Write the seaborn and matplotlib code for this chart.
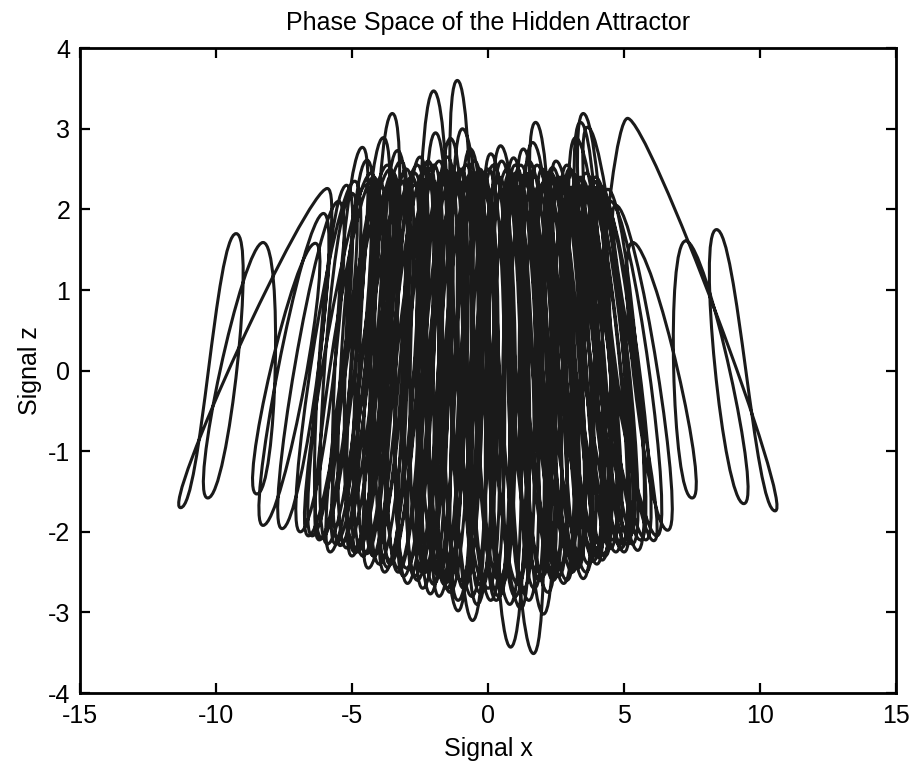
import matplotlib
matplotlib.use("Agg")
import matplotlib.pyplot as plt
import seaborn as sns
from matplotlib.path import Path
from matplotlib.patches import PathPatch

# ---- data: successive turning points of the trajectory (top, then bottom) ----
peak_x = [3.90, 5.13, 8.40, 7.27, 5.32, 4.70, 4.40, 3.66, 3.95, 3.50, 3.22, 3.40, 2.90, 3.10,
          2.60, 2.37, 2.10, 1.75, 1.64, 1.30, 1.00, 0.94, 0.46, 0.10, -0.30, -0.65, -0.94,
          -1.13, -1.38, -1.93, -2.00, -2.20, -2.70, -3.33, -3.52, -3.85, -4.45, -4.62, -5.20,
          -5.91, -9.26, -8.27, -6.35, -6.05, -5.50, -4.90, -4.20, -3.60, -3.10, -2.60, -2.10,
          -1.60, -1.10, -0.60, -0.10, 0.40, 0.90, 1.40, 1.90, 2.40, 2.90, 3.30, 3.80, 4.20,
          3.60, 3.00, 2.50, 2.00, 1.50, 1.00, 0.50, 0.00, -0.50, -1.00, -1.50, -2.00, -2.50,
          -3.00, -3.50, -4.00, -4.50, -5.00, -4.30, -3.70, -3.20, -2.80, -2.30, -1.80, -1.30,
          -0.80, -0.30, 0.20, 0.70, 1.20, 1.70, 2.20, 2.70, 3.20, 3.70, 4.10, 4.50, 3.90,
          3.40, 2.80, 2.30, 1.80, 1.30, 0.80, 0.30, -0.20, -0.70, -1.20, -1.70, -2.20, -2.70,
          -3.20, -3.70, -4.10]
peak_z = [2.35, 3.13, 1.75, 1.61, 1.59, 2.05, 2.25, 3.02, 2.40, 3.19, 2.89, 3.08, 2.55, 2.45,
          2.40, 2.52, 2.35, 3.08, 2.83, 2.75, 2.45, 2.64, 2.79, 2.69, 2.40, 2.75, 3.00,
          3.60, 2.88, 2.95, 3.47, 2.60, 2.45, 2.73, 3.19, 2.89, 2.61, 2.77, 2.30,
          2.26, 1.70, 1.59, 1.58, 1.95, 2.10, 2.35, 2.40, 2.50, 2.35, 2.55, 2.40,
          2.50, 2.35, 2.45, 2.30, 2.40, 2.35, 2.45, 2.30, 2.35, 2.30, 2.40, 2.30, 2.15,
          2.45, 2.50, 2.60, 2.50, 2.60, 2.55, 2.60, 2.50, 2.60, 2.50, 2.65, 2.55, 2.65,
          2.50, 2.45, 2.35, 2.30, 2.20, 2.45, 2.55, 2.60, 2.40, 2.50, 2.60, 2.45,
          2.55, 2.50, 2.55, 2.50, 2.55, 2.40, 2.45, 2.40, 2.30, 2.20, 2.30, 2.10, 2.35,
          2.40, 2.35, 2.45, 2.55, 2.35, 2.45, 2.35, 2.45, 2.35, 2.45, 2.35, 2.40, 2.30,
          2.35, 2.25, 2.20]
trough_x = [4.00, 10.55, 9.40, 7.50, 6.60, 6.09, 5.50, 5.20, 4.90, 4.25, 4.60, 3.90, 3.50, 4.00,
            3.20, 2.78, 3.00, 2.04, 2.40, 1.67, 1.90, 0.83, 1.20, 0.40, 0.00, -0.57, -0.20,
            -1.10, -1.50, -2.12, -1.80, -2.96, -3.30, -3.70, -4.45, -4.90, -5.43, -6.10, -6.46,
            -11.30, -10.30, -8.50, -8.27, -7.57, -6.90, -6.20, -5.60, -4.80, -4.20, -3.60, -2.70,
            -2.30, -1.60, -0.90, -0.30, 0.50, 1.30, 2.00, 2.60, 3.30, 3.90, 4.50, 5.10, 5.80,
            5.00, 4.20, 3.60, 2.90, 2.20, 1.50, 0.80, 0.10, -0.60, -1.40, -2.00, -2.60, -3.30,
            -4.00, -4.60, -5.20, -5.90, -6.60, -5.80, -5.00, -4.40, -3.80, -3.10, -2.40, -1.80,
            -1.10, -0.40, 0.30, 1.00, 1.70, 2.40, 3.10, 3.70, 4.30, 4.90, 5.60, 6.20, 5.30,
            4.70, 4.00, 3.30, 2.60, 1.90, 1.10, 0.40, -0.30, -1.00, -1.70, -2.40, -3.00, -3.60,
            -4.20, -4.90, -5.40]
trough_z = [-2.30, -1.74, -1.65, -1.58, -1.98, -2.11, -2.23, -2.05, -2.15, -2.27, -2.10, -2.35, -2.58, -2.20,
            -2.45, -2.64, -2.30, -3.02, -2.50, -3.51, -2.60, -3.43, -2.95, -2.80, -2.70, -3.10, -2.60,
            -2.98, -2.70, -2.77, -2.55, -2.64, -2.45, -2.44, -2.27, -2.20, -2.17, -2.08, -2.05,
            -1.70, -1.58, -1.53, -1.92, -1.96, -2.00, -2.10, -2.15, -2.25, -2.30, -2.40, -2.55,
            -2.50, -2.65, -2.70, -2.75, -2.65, -2.70, -2.55, -2.45, -2.40, -2.30, -2.20, -2.15, -2.10,
            -2.25, -2.35, -2.50, -2.60, -2.75, -2.85, -2.90, -2.85, -2.80, -2.75, -2.65, -2.60, -2.50,
            -2.40, -2.30, -2.20, -2.15, -2.05, -2.25, -2.30, -2.45, -2.50, -2.55, -2.70, -2.80,
            -2.85, -2.90, -2.85, -2.80, -2.70, -2.60, -2.50, -2.40, -2.30, -2.20, -2.10, -2.05, -2.15,
            -2.25, -2.40, -2.45, -2.55, -2.60, -2.65, -2.60, -2.65, -2.60, -2.55, -2.50, -2.45, -2.35,
            -2.30, -2.25, -2.15]

x_ticks = [-15, -10, -5, 0, 5, 10, 15]
z_ticks = [-4, -3, -2, -1, 0, 1, 2, 3, 4]
title = "Phase Space of the Hidden Attractor"
x_label = "Signal x"
z_label = "Signal z"

# ---- style ----
line_color = "#1a1a1a"
loop_round = 0.75          # horizontal handle length of each turn (data units)
# turning sense at each turn: tops move +x, bottoms move -x, except where the
# trajectory reverses its rotation (outer loops on the right, left outer jump)
top_sense = [1] * len(peak_x)
bottom_sense = [-1] * len(trough_x)
for c in (2, 3, 4, 5):
    top_sense[c] = -1
for c in (2, 3, 4):
    bottom_sense[c] = 1
top_sense[39] = -1
bottom_sense[39] = 1

sns.set_theme(style="ticks")
plt.rcParams["font.family"] = ["Liberation Sans", "DejaVu Sans"]
plt.rcParams["font.size"] = 18

fig = plt.figure(figsize=(9.16, 7.65), dpi=100)
ax = fig.add_axes([0.0873, 0.094, 0.891, 0.843])

xs, zs, sense = [], [], []
for i in range(len(peak_x)):
    xs += [peak_x[i], trough_x[i]]
    zs += [peak_z[i], trough_z[i]]
    sense += [top_sense[i], bottom_sense[i]]

verts = [(xs[0], zs[0])]
codes = [Path.MOVETO]
for i in range(len(xs) - 1):
    verts += [(xs[i] + sense[i] * loop_round, zs[i]),
              (xs[i + 1] - sense[i + 1] * loop_round, zs[i + 1]),
              (xs[i + 1], zs[i + 1])]
    codes += [Path.CURVE4] * 3
ax.add_patch(PathPatch(Path(verts, codes), facecolor="none", edgecolor=line_color,
                       lw=2.2, joinstyle="round", capstyle="round"))

ax.set_xlim(-15, 15)
ax.set_ylim(-4, 4)
ax.set_xticks(x_ticks)
ax.set_yticks(z_ticks)
ax.set_xticklabels([str(v) for v in x_ticks])
ax.set_yticklabels([str(v) for v in z_ticks])
for s in ax.spines.values():
    s.set_visible(True)
    s.set_linewidth(2.0)
    s.set_color("black")
ax.tick_params(direction="in", length=7, width=1.6, color="black",
               top=True, right=True, labelsize=18, labelcolor="black")
ax.tick_params(axis="x", pad=8)
ax.tick_params(axis="y", pad=7)
ax.set_xlabel(x_label, fontsize=18, color="black", labelpad=6)
ax.set_ylabel(z_label, fontsize=18, color="black", labelpad=4)
ax.set_title(title, fontsize=18, color="black", pad=13)
ax.set_facecolor("white")
fig.patch.set_facecolor("white")
ax.grid(False)

fig.savefig("out.png", dpi=100, facecolor="white")
